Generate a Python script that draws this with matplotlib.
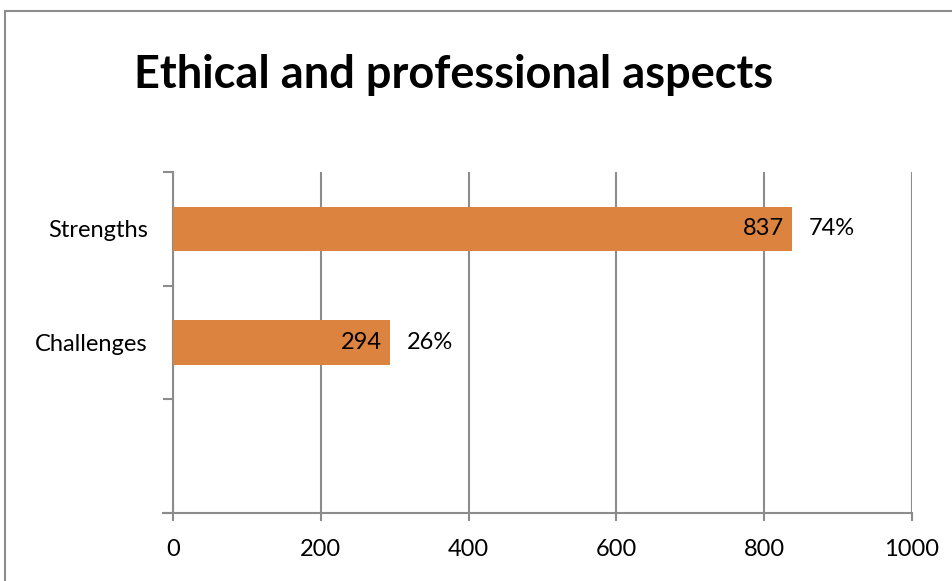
import matplotlib
matplotlib.use('Agg')
import matplotlib.pyplot as plt
from matplotlib.patches import Rectangle

plt.rcParams['font.family'] = ['Lato', 'DejaVu Sans']

## Data
categories = ['', 'Challenges', 'Strengths']
counts = [None, 294, 837]
shares = [None, '26%', '74%']
x_ticks = [0, 200, 400, 600, 800, 1000]

bar_color = '#DC843F'
grid_color = '#8C8C8C'

W, H = 953, 581
fig = plt.figure(figsize=(W / 100, H / 100), dpi=100)

# outer chart frame
fig.patches.append(Rectangle((5 / W, -0.1), 1.2, (H - 11) / H + 0.1, transform=fig.transFigure,
                             fill=False, edgecolor='#8C8C8C', linewidth=1.5))

fig.text(454 / W, 1 - 75 / H, 'Ethical and professional aspects', ha='center', va='center',
         fontsize=32.5, fontweight='bold')

ax = fig.add_axes([173 / W, (H - 513) / H, (912 - 173) / W, (513 - 172) / H])

ypos = range(len(categories))
for y, v in zip(ypos, counts):
    if v is None:
        continue
    ax.barh(y, v, height=0.39, color=bar_color, zorder=3)

for y, v, s in zip(ypos, counts, shares):
    if v is None:
        continue
    ax.annotate(str(v), (v, y), xytext=(-8, 0), textcoords='offset pixels',
                ha='right', va='center', fontsize=17, zorder=4)
    ax.annotate(s, (v, y), xytext=(17, 0), textcoords='offset pixels',
                ha='left', va='center', fontsize=17, zorder=4)

ax.set_xlim(0, 1000)
ax.set_ylim(-0.5, len(categories) - 0.5)
ax.set_xticks(x_ticks)
ax.set_xticklabels([str(t) for t in x_ticks])
ax.xaxis.grid(True, color=grid_color, linewidth=1.5, zorder=0)

ax.set_yticks(list(ypos))
ax.set_yticklabels(categories)
ax.set_yticks([i - 0.5 for i in range(len(categories) + 1)], minor=True)
ax.tick_params(axis='y', which='major', length=0, pad=18, labelsize=17)
ax.tick_params(axis='y', which='minor', length=7, width=1.5, color=grid_color, direction='out')
ax.tick_params(axis='x', length=6, width=1.5, color=grid_color, pad=13, labelsize=17)

for side in ['top', 'right']:
    ax.spines[side].set_visible(False)
for side in ['left', 'bottom']:
    ax.spines[side].set_color(grid_color)
    ax.spines[side].set_linewidth(1.5)
ax.spines['bottom'].set_bounds(-14, 1000)

fig.savefig('out.png', dpi=100)
